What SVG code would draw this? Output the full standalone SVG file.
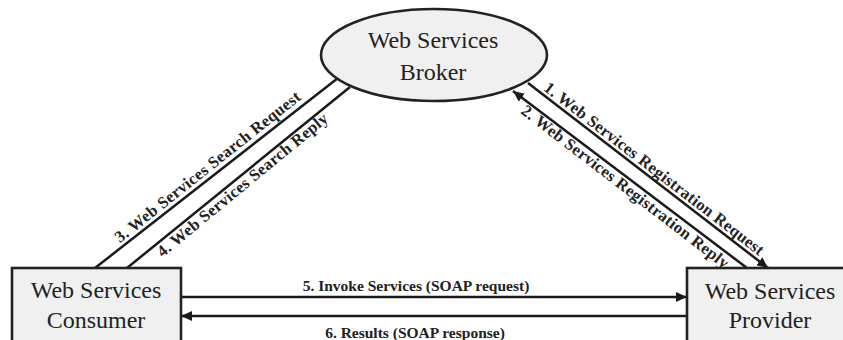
<svg xmlns="http://www.w3.org/2000/svg" width="843" height="340" viewBox="0 0 843 340">
<style>
.node{fill:#f0f0f0;stroke:#222;stroke-width:2.6}
.nt{font-size:24px;fill:#222;text-anchor:middle}
.ln{stroke:#1a1a1a;stroke-width:2.5;fill:none}
.lb{font-size:15.5px;font-weight:bold;fill:#222;text-anchor:middle}
.ld{font-size:16.5px;font-weight:bold;fill:#222;text-anchor:middle;letter-spacing:0.3px}
</style>
<defs>
<marker id="ah" markerUnits="userSpaceOnUse" markerWidth="12" markerHeight="10" refX="11" refY="5" orient="auto">
<path d="M0,0 L11,5 L0,10 z" fill="#1a1a1a"/>
</marker>
</defs>
<rect width="843" height="340" fill="#fff"/>
<g id="connectors" font-family="'Liberation Serif', 'DejaVu Serif', serif">
<line class="ln" x1="528" y1="83" x2="768" y2="268" marker-end="url(#ah)"/>
<line class="ln" x1="747" y1="268" x2="513" y2="91" marker-end="url(#ah)"/>
<line class="ln" x1="95" y1="268" x2="338" y2="78"/>
<line class="ln" x1="127" y1="268" x2="350" y2="87"/>
<line class="ln" x1="181" y1="297" x2="687" y2="297" marker-end="url(#ah)"/>
<line class="ln" x1="687" y1="316" x2="181" y2="316" marker-end="url(#ah)"/>
<text class="ld" transform="translate(651,173) rotate(37.6)">1. Web Services Registration Request</text>
<text class="ld" transform="translate(622,191) rotate(37.5)">2. Web Services Registration Reply</text>
<text class="ld" transform="translate(211,171) rotate(-38.5)">3. Web Services Search Request</text>
<text class="ld" transform="translate(246,189) rotate(-39.5)">4. Web Services Search Reply</text>
<text class="lb" x="416" y="291">5. Invoke Services (SOAP request)</text>
<text class="lb" x="415" y="338">6. Results (SOAP response)</text>
</g>
<g id="broker" font-family="'Liberation Serif', 'DejaVu Serif', serif">
<ellipse class="node" cx="434" cy="55" rx="113" ry="46"/>
<text class="nt" x="433" y="48">Web Services</text>
<text class="nt" x="433" y="80">Broker</text>
</g>
<g id="consumer" font-family="'Liberation Serif', 'DejaVu Serif', serif">
<rect class="node" x="12" y="268" width="169" height="80"/>
<text class="nt" x="96" y="298">Web Services</text>
<text class="nt" x="96" y="328">Consumer</text>
</g>
<g id="provider" font-family="'Liberation Serif', 'DejaVu Serif', serif">
<rect class="node" x="687" y="268" width="169" height="80"/>
<text class="nt" x="770" y="299">Web Services</text>
<text class="nt" x="770" y="328">Provider</text>
</g>
</svg>
